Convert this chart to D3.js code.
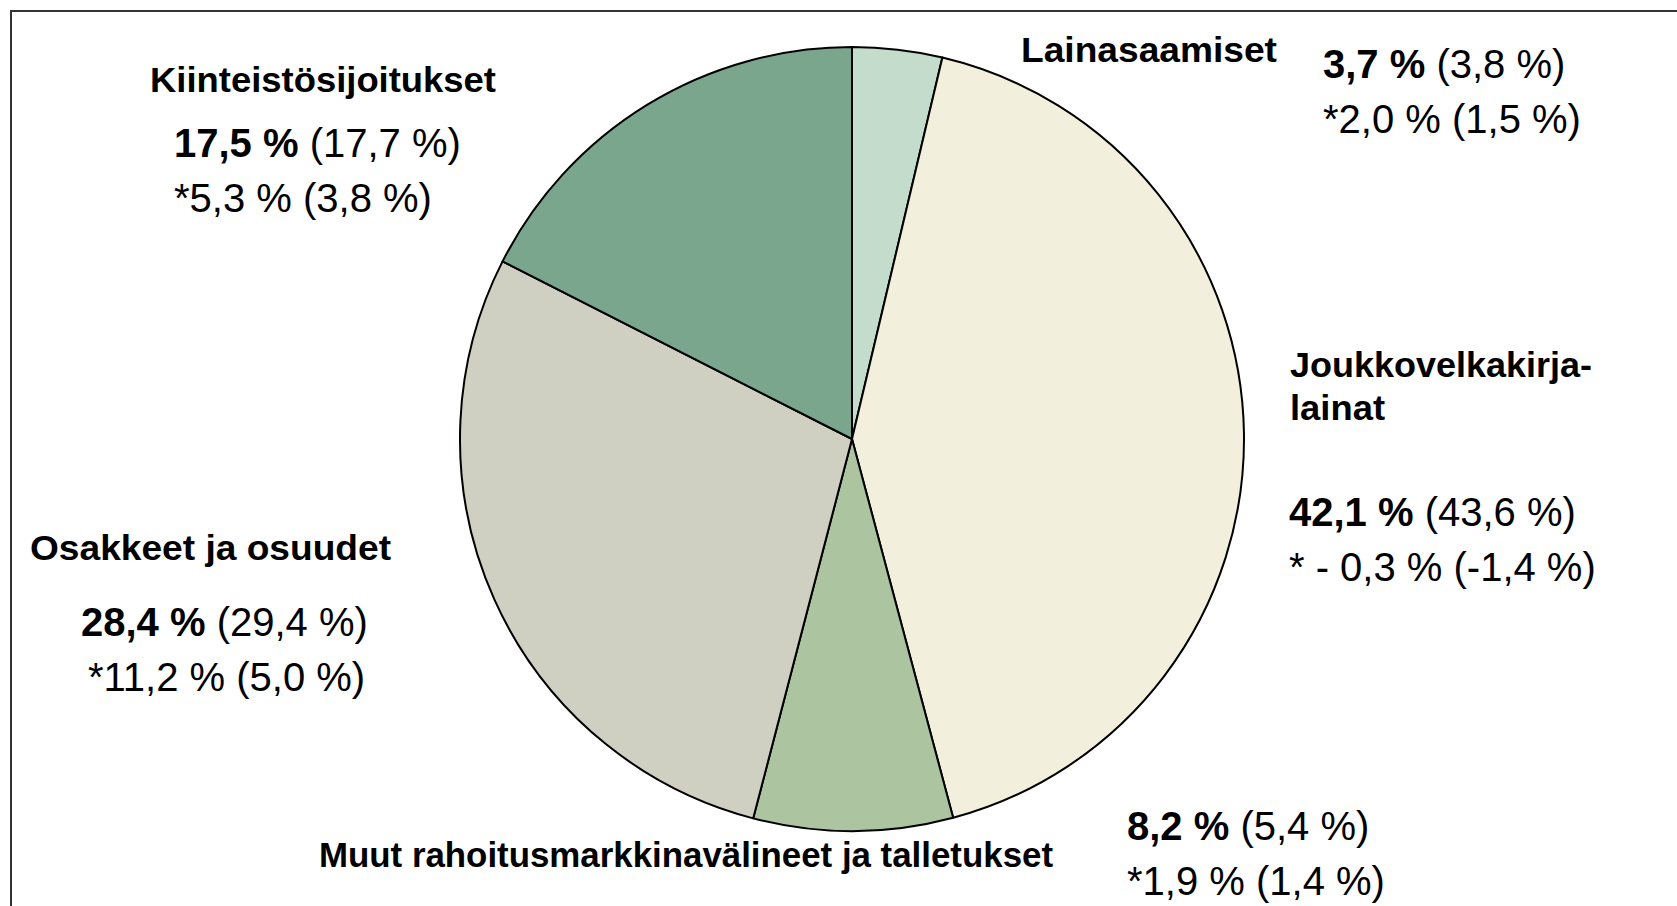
<!DOCTYPE html>
<html>
<head>
<meta charset="utf-8">
<script src="https://cdn.jsdelivr.net/npm/d3@7"></script>
<style>
  html, body { margin: 0; padding: 0; background: #fff; }
  svg { display: block; }
</style>
</head>
<body>
<svg id="chart" width="1677" height="906"></svg>
<script>
// sijoitusjakauma, kierroksen järjestyksessä ylhäältä myötäpäivään
let categories = ["Lainasaamiset", "Joukkovelkakirjalainat", "Muut rahoitusmarkkinavälineet ja talletukset", "Osakkeet ja osuudet", "Kiinteistösijoitukset"];
let shares = [3.7, 42.1, 8.2, 28.4, 17.5];
let sharesPrev = [3.8, 43.6, 5.4, 29.4, 17.7];
let returns = [2.0, -0.3, 1.9, 11.2, 5.3];
let returnsPrev = [1.5, -1.4, 1.4, 5.0, 3.8];
let colors = ["#c4dccb", "#f2f0dc", "#adc4a1", "#cfd0c2", "#79a68d"];

// label layout: name lines (with measured widths) + where number rows go
let labelLayout = [
  { lines: ["Lainasaamiset"], widths: [256], x: 1021, y: 62, nx: 1323, ny: 78 },
  { lines: ["Joukkovelkakirja-", "lainat"], widths: [302, 95], x: 1290, y: 377, nx: 1289, ny: 526 },
  { lines: ["Muut rahoitusmarkkinavälineet ja talletukset"], widths: [734], x: 319, y: 867, nx: 1127, ny: 840 },
  { lines: ["Osakkeet ja osuudet"], widths: [361], x: 30, y: 560, nx: 81, ny: 636, rx: 88 },
  { lines: ["Kiinteistösijoitukset"], widths: [346], x: 150, y: 92, nx: 174, ny: 157 }
];

function drawVis(svgClass) {
  let svg = d3.select(svgClass);
  let font = "'Liberation Sans', Arial, sans-serif";
  let labelSize = 35;
  let numSize = 40;

  let centerX = 852;
  let centerY = 439;
  let radius = 392;

  // frame (cut off on right and bottom like the original)
  svg.append("rect")
    .attr("x", 11)
    .attr("y", 11)
    .attr("width", 1700)
    .attr("height", 950)
    .style("fill", "none")
    .style("stroke", "#333")
    .style("stroke-width", 2);

  let data = categories.map((c, i) => ({ name: c, value: shares[i], i: i }));

  let pie = d3.pie()
    .sort(null)
    .value((d) => d.value);

  let arc = d3.arc()
    .innerRadius(0)
    .outerRadius(radius);

  let mainG = svg.append("g").attr("transform", "translate(" + centerX + "," + centerY + ")");

  mainG.selectAll(".slice")
    .data(pie(data))
    .enter()
    .append("path")
    .attr("class", "slice")
    .attr("d", arc)
    .style("fill", (d) => colors[d.data.i])
    .style("stroke", "#000")
    .style("stroke-width", 2)
    .style("stroke-linejoin", "round");

  let fmt = (v) => Math.abs(v).toFixed(1).replace(".", ",");

  labelLayout.forEach((l, i) => {
    // category name
    l.lines.forEach((line, k) => {
      svg.append("text")
        .attr("x", l.x)
        .attr("y", l.y + k * 43)
        .attr("textLength", l.widths[k])
        .attr("lengthAdjust", "spacingAndGlyphs")
        .text(line)
        .style("font-family", font)
        .style("font-size", labelSize)
        .style("font-weight", "bold")
        .style("fill", "#000");
    });

    // share now (bold) + share previous year
    let t = svg.append("text")
      .attr("x", l.nx)
      .attr("y", l.ny)
      .style("font-family", font)
      .style("font-size", numSize)
      .style("fill", "#000");
    t.append("tspan")
      .style("font-weight", "bold")
      .text(fmt(shares[i]) + " %");
    t.append("tspan")
      .text(" (" + (sharesPrev[i] < 0 ? "-" : "") + fmt(sharesPrev[i]) + " %)");

    // return row
    let cur = returns[i] < 0 ? "* - " + fmt(returns[i]) : "*" + fmt(returns[i]);
    let prev = (returnsPrev[i] < 0 ? "-" : "") + fmt(returnsPrev[i]);
    svg.append("text")
      .attr("x", l.rx != null ? l.rx : l.nx)
      .attr("y", l.ny + 55)
      .text(cur + " % (" + prev + " %)")
      .style("font-family", font)
      .style("font-size", numSize)
      .style("fill", "#000");
  });
}

drawVis("#chart");
</script>
</body>
</html>
